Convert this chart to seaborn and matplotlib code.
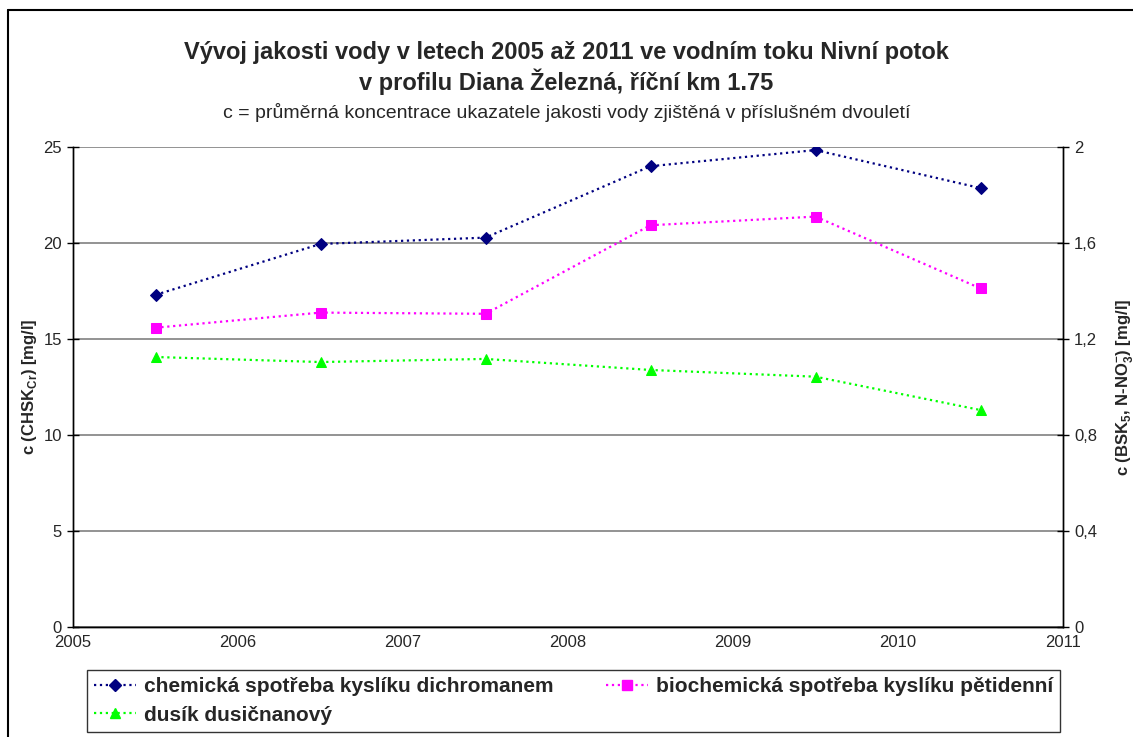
import numpy as np
import pandas as pd
import matplotlib
matplotlib.use("Agg")
import matplotlib.pyplot as plt
from matplotlib.lines import Line2D
from matplotlib.ticker import FuncFormatter
import seaborn as sns

# data
years = [2005.5, 2006.5, 2007.5, 2008.5, 2009.5, 2010.5]
chsk = [17.3, 19.95, 20.28, 24.0, 24.84, 22.86]          # left axis
bsk5 = [1.247, 1.31, 1.305, 1.674, 1.71, 1.411]          # right axis
no3 = [1.125, 1.104, 1.117, 1.071, 1.043, 0.904]         # right axis

labels = ["chemická spotřeba kyslíku dichromanem",
          "biochemická spotřeba kyslíku pětidenní",
          "dusík dusičnanový"]
colors = ["#000080", "#FF00FF", "#00FF00"]

sns.set_style("white")
plt.rcParams['font.family'] = ['Liberation Sans', 'DejaVu Sans']
plt.rcParams['mathtext.fontset'] = 'custom'
plt.rcParams['mathtext.rm'] = 'Liberation Sans'
plt.rcParams['mathtext.bf'] = 'Liberation Sans:bold'

df_left = pd.DataFrame({"rok": years, "c": chsk})
df_right = pd.DataFrame({"rok": years * 2, "c": bsk5 + no3,
                         "ukazatel": [labels[1]] * 6 + [labels[2]] * 6})

fig = plt.figure(figsize=(11.33, 7.37), dpi=100)
ax = fig.add_axes([73 / 1133, 1 - 627 / 737, 990 / 1133, 480 / 737])
ax2 = ax.twinx()

sns.lineplot(data=df_left, x="rok", y="c", ax=ax, color=colors[0],
             linestyle=":", linewidth=1.6, marker="D", markersize=6,
             markeredgecolor=colors[0], legend=False)
sns.lineplot(data=df_right, x="rok", y="c", hue="ukazatel", style="ukazatel",
             palette=colors[1:], markers=["s", "^"], dashes=False, ax=ax2,
             linewidth=1.6, markersize=7, legend=False)
for ln in ax2.lines:
    ln.set_linestyle(":")
    ln.set_markeredgecolor(ln.get_color())

ax.set_xlim(2005, 2011)
ax.set_ylim(0, 25)
ax2.set_ylim(0, 2)
ax.set_xticks(range(2005, 2012))
ax.set_yticks(range(0, 26, 5))
ax2.set_yticks([0, 0.4, 0.8, 1.2, 1.6, 2.0])
ax2.yaxis.set_major_formatter(FuncFormatter(lambda v, p: ('%g' % round(v, 1)).replace('.', ',')))
ax.grid(axis='y', color='#808080', linewidth=1.2)
ax.set_axisbelow(True)

for a in (ax, ax2):
    a.spines['top'].set_visible(False)
    for s in ('left', 'right', 'bottom'):
        a.spines[s].set_color('black')
        a.spines[s].set_linewidth(1.0)
    a.tick_params(direction='inout', length=8, width=1, color='black',
                  labelsize=12, pad=4)
ax.tick_params(axis='x', direction='out', length=0, pad=6)
ax.tick_params(left=True)
ax2.tick_params(right=True)

ax.set_xlabel("")
ax.set_ylabel(r"c (CHSK$_\mathbf{Cr}$) [mg/l]", fontsize=12, fontweight='bold', labelpad=3)
ax2.set_ylabel(r"c (BSK$_\mathbf{5}$, N-NO$_\mathbf{3}^\mathbf{-}$) [mg/l]", fontsize=12,
               fontweight='bold', labelpad=12)

fig.text(0.5, 1 - 52 / 737, "Vývoj jakosti vody v letech 2005 až 2011 ve vodním toku Nivní potok",
         ha='center', va='center', fontsize=17, fontweight='bold')
fig.text(0.5, 1 - 82 / 737, "v profilu Diana Železná, říční km 1.75",
         ha='center', va='center', fontsize=17, fontweight='bold')
fig.text(0.5, 1 - 112 / 737, "c = průměrná koncentrace ukazatele jakosti vody zjištěná v příslušném dvouletí",
         ha='center', va='center', fontsize=14)

handles = [Line2D([], [], color=colors[0], linestyle=':', linewidth=1.6, marker='D', markersize=6),
           Line2D([], [], color=colors[2], linestyle=':', linewidth=1.6, marker='^', markersize=7),
           Line2D([], [], color=colors[1], linestyle=':', linewidth=1.6, marker='s', markersize=7)]
leg_labels = [labels[0], labels[2], labels[1]]
leg = fig.legend(handles, leg_labels, ncol=2, loc='upper left',
                 bbox_to_anchor=(87 / 1133, 1 - 670 / 737),
                 frameon=True, fancybox=False, edgecolor='black', borderaxespad=0,
                 prop={'weight': 'bold', 'size': 15}, handlelength=2.0, handletextpad=0.4,
                 columnspacing=2.5, labelspacing=0.45, borderpad=0.35)
leg.get_frame().set_linewidth(1.0)

# outer chart frame
fig.add_artist(Line2D([8 / 1133, 1.0], [1 - 10 / 737] * 2, color='black', linewidth=1.5,
                      transform=fig.transFigure))
fig.add_artist(Line2D([8 / 1133] * 2, [0, 1 - 10 / 737], color='black', linewidth=1.5,
                      transform=fig.transFigure))

fig.savefig("out.png", dpi=100)
